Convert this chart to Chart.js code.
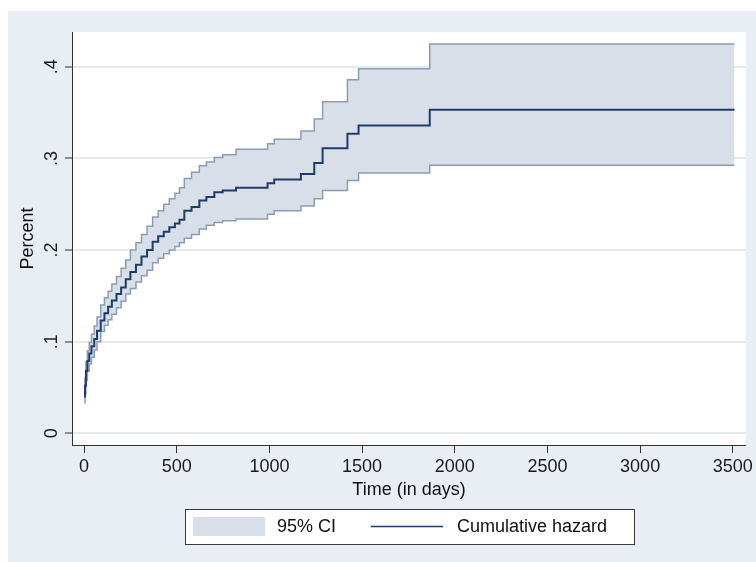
<!DOCTYPE html>
<html>
<head>
<meta charset="utf-8">
<script src="https://cdn.jsdelivr.net/npm/chart.js@4.4.1/dist/chart.umd.min.js"></script>
<style>
  html, body { margin: 0; padding: 0; background: #ffffff; }
  canvas { display: block; }
</style>
</head>
<body>
<canvas id="hazard-chart" width="756" height="562"></canvas>
<script>
// Cumulative hazard with 95% CI

const days = [2, 5, 10, 18, 28, 40, 55, 70, 90, 110, 130, 150, 175, 200, 225, 250, 280, 310, 340, 370,
  400, 430, 460, 490, 515, 541, 580, 622, 660, 703, 748, 820, 990, 1026, 1170, 1242, 1287, 1421, 1481, 1865, 3509];

const cumHazard = [.040, .052, .068, .079, .087, .095, .103, .112, .123, .131, .138, .145, .152, .159, .168, .176, .184, .193, .200, .209,
  .215, .220, .225, .229, .233, .243, .247, .254, .258, .263, .265, .268, .273, .277, .283, .295, .311, .327, .336, .353, .353];

const ciLower = [.033, .043, .058, .068, .076, .083, .091, .100, .111, .118, .124, .130, .137, .144, .152, .158, .165, .172, .178, .186,
  .191, .196, .200, .204, .208, .213, .217, .223, .227, .230, .232, .234, .239, .243, .248, .256, .265, .276, .284, .2925, .2925];

const ciUpper = [.047, .060, .078, .090, .099, .108, .117, .127, .140, .148, .155, .163, .171, .180, .189, .200, .208, .217, .226, .236,
  .243, .250, .256, .262, .268, .278, .285, .292, .296, .301, .304, .310, .316, .321, .330, .343, .362, .386, .398, .425, .425];

const xTicks = [0, 500, 1000, 1500, 2000, 2500, 3000, 3500];
const yTicks = [0, 0.1, 0.2, 0.3, 0.4];
const yTickLabels = ['0', '.1', '.2', '.3', '.4'];
const legendLabels = ['95% CI', 'Cumulative hazard'];

const FONT = "'Liberation Sans', Arial, Helvetica, sans-serif";
const CI_FILL = '#d8dfe8';
const CI_LINE = '#8d9db1';
const HAZ_LINE = '#1d3c68';

const toPoints = (vals) => days.map((d, i) => ({ x: d, y: vals[i] }));

// outer grey region + white plot region
const backgroundPlugin = {
  id: 'stataBackground',
  beforeDraw(chart) {
    const ctx = chart.ctx;
    const a = chart.chartArea;
    ctx.save();
    ctx.fillStyle = '#e9eef4';
    ctx.fillRect(8, 11, chart.width - 8, chart.height - 11);
    ctx.fillStyle = '#ffffff';
    ctx.fillRect(a.left, a.top, a.right - a.left, a.bottom - a.top);
    ctx.restore();
  }
};

// Stata-like boxed legend under the axis title
const legendPlugin = {
  id: 'stataLegend',
  afterDraw(chart) {
    const ctx = chart.ctx;
    ctx.save();
    ctx.fillStyle = '#ffffff';
    ctx.fillRect(185, 509, 449, 35);
    ctx.strokeStyle = '#3a3a3a';
    ctx.lineWidth = 1;
    ctx.strokeRect(185.5, 509.5, 449, 35);

    ctx.fillStyle = CI_FILL;
    ctx.fillRect(193, 517, 72, 19);

    ctx.strokeStyle = HAZ_LINE;
    ctx.lineWidth = 1.5;
    ctx.beginPath();
    ctx.moveTo(371, 526.5);
    ctx.lineTo(443, 526.5);
    ctx.stroke();

    ctx.fillStyle = '#111111';
    ctx.font = '18px ' + FONT;
    ctx.textBaseline = 'middle';
    ctx.textAlign = 'left';
    ctx.fillText(legendLabels[0], 277, 527);
    ctx.fillText(legendLabels[1], 457, 527);
    ctx.restore();
  }
};

const ctx = document.getElementById('hazard-chart').getContext('2d');
const hazardChart = new Chart(ctx, {
  type: 'line',
  data: {
    datasets: [
      {
        label: 'Cumulative hazard',
        data: toPoints(cumHazard),
        borderColor: HAZ_LINE,
        borderWidth: 2,
        stepped: 'before',
        pointRadius: 0,
        fill: false
      },
      {
        label: '95% CI upper',
        data: toPoints(ciUpper),
        borderColor: CI_LINE,
        borderWidth: 1.5,
        backgroundColor: CI_FILL,
        stepped: 'before',
        pointRadius: 0,
        fill: '+1'
      },
      {
        label: '95% CI lower',
        data: toPoints(ciLower),
        borderColor: CI_LINE,
        borderWidth: 1.5,
        stepped: 'before',
        pointRadius: 0,
        fill: false
      }
    ]
  },
  options: {
    responsive: false,
    animation: false,
    devicePixelRatio: 1,
    layout: { padding: { left: 8, top: 32, right: 9, bottom: 61 } },
    plugins: {
      legend: { display: false },
      tooltip: { enabled: false },
      filler: { drawTime: 'beforeDatasetsDraw' }
    },
    scales: {
      x: {
        type: 'linear',
        min: -65,
        max: 3571,
        afterFit: (scale) => { scale.height = 56; },
        afterBuildTicks: (scale) => { scale.ticks = xTicks.map(v => ({ value: v })); },
        ticks: {
          autoSkip: false,
          maxRotation: 0,
          padding: 3,
          color: '#1a1a1a',
          font: { family: FONT, size: 18 },
          callback: (v) => String(v)
        },
        grid: {
          drawOnChartArea: false,
          tickLength: 8,
          tickColor: '#333333',
          tickWidth: 1
        },
        border: { color: '#333333', width: 1 },
        title: {
          display: true,
          text: 'Time (in days)',
          color: '#111111',
          font: { family: FONT, size: 18 },
          padding: { top: 0, bottom: 0 }
        }
      },
      y: {
        min: -0.0128,
        max: 0.438,
        afterFit: (scale) => { scale.width = 64; },
        afterBuildTicks: (scale) => { scale.ticks = yTicks.map(v => ({ value: v })); },
        ticks: {
          autoSkip: false,
          minRotation: 90,
          maxRotation: 90,
          crossAlign: 'center',
          padding: 5,
          color: '#1a1a1a',
          font: { family: FONT, size: 18 },
          callback: (v) => yTickLabels[yTicks.indexOf(v)]
        },
        grid: {
          color: '#e3eaf0',
          lineWidth: 2,
          tickLength: 7,
          tickColor: '#333333',
          tickWidth: 1
        },
        border: { color: '#333333', width: 1 },
        title: {
          display: true,
          text: 'Percent',
          color: '#111111',
          font: { family: FONT, size: 18 },
          padding: { top: 9, bottom: 0 }
        }
      }
    }
  },
  plugins: [backgroundPlugin, legendPlugin]
});
</script>
</body>
</html>
